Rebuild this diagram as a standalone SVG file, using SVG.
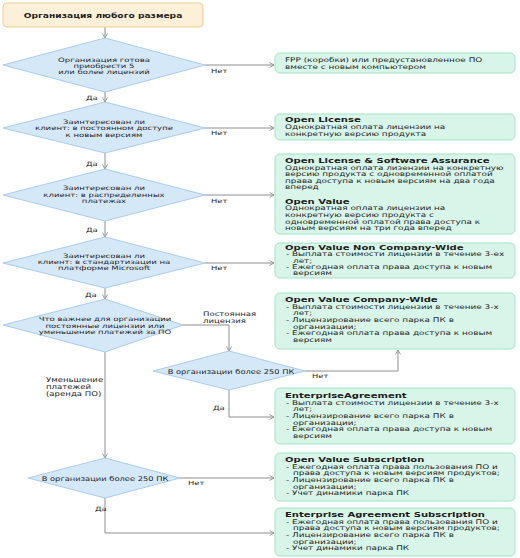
<svg xmlns="http://www.w3.org/2000/svg" width="520" height="558" viewBox="0 0 520 558">
<style>
text{font-family:"DejaVu Sans","Verdana",sans-serif;fill:#1e1e1e;font-size:6.4px}
.b{font-weight:bold;font-size:6.7px}
.d{font-size:6px;text-anchor:middle}
.l{font-size:6px}
.start{fill:#fcf0d8;stroke:#efcf8c;stroke-width:1}
.dia{fill:#d5e8f8;stroke:#a9cced;stroke-width:1}
.box{fill:#d8f5e9;stroke:#a2e3c7;stroke-width:1}
.c{fill:none;stroke:#8e8e8e;stroke-width:1}
</style>
<defs>
<marker id="ar" markerWidth="6" markerHeight="6" refX="5" refY="3" orient="auto" markerUnits="userSpaceOnUse">
<path d="M0.5,0.5 L5,3 L0.5,5.5" fill="none" stroke="#8e8e8e" stroke-width="0.9"/>
</marker>
</defs>
<rect width="520" height="558" fill="#ffffff"/>

<g id="connectors">
<path class="c" d="M105,27 V38" marker-end="url(#ar)"/>
<path class="c" d="M105,92 V102" marker-end="url(#ar)"/>
<path class="c" d="M105,153 V169" marker-end="url(#ar)"/>
<path class="c" d="M105,221 V237" marker-end="url(#ar)"/>
<path class="c" d="M105,288 V299" marker-end="url(#ar)"/>
<path class="c" d="M205,65 H274" marker-end="url(#ar)"/>
<path class="c" d="M205,128 H274" marker-end="url(#ar)"/>
<path class="c" d="M205,195 H274" marker-end="url(#ar)"/>
<path class="c" d="M205,263 H274" marker-end="url(#ar)"/>
<path class="c" d="M183,325 H229 V351" marker-end="url(#ar)"/>
<path class="c" d="M305,371 H398 V350" marker-end="url(#ar)"/>
<path class="c" d="M229,390 V417 H274" marker-end="url(#ar)"/>
<path class="c" d="M105,352 V458" marker-end="url(#ar)"/>
<path class="c" d="M180,478 H274" marker-end="url(#ar)"/>
<path class="c" d="M105,498 V533 H274" marker-end="url(#ar)"/>
<g class="labels">
<text class="l" transform="translate(211,73) scale(1.4,1)">Нет</text>
<text class="l" transform="translate(211,134.5) scale(1.4,1)">Нет</text>
<text class="l" transform="translate(211,203) scale(1.4,1)">Нет</text>
<text class="l" transform="translate(211,270) scale(1.4,1)">Нет</text>
<text class="l" transform="translate(312,378) scale(1.4,1)">Нет</text>
<text class="l" transform="translate(188,485) scale(1.4,1)">Нет</text>
<text class="l" transform="translate(86,99.5) scale(1.4,1)">Да</text>
<text class="l" transform="translate(86,165.5) scale(1.4,1)">Да</text>
<text class="l" transform="translate(86,231.5) scale(1.4,1)">Да</text>
<text class="l" transform="translate(85,296.5) scale(1.4,1)">Да</text>
<text class="l" transform="translate(213,409.5) scale(1.4,1)">Да</text>
<text class="l" transform="translate(95,511) scale(1.4,1)">Да</text>
<g transform="translate(203,0) scale(1.36,1)">
<text x="0" y="316.3" style="font-size:6.3px">Постоянная</text>
<text x="0" y="323" style="font-size:6.3px">лицензия</text>
</g>
<g transform="translate(46,0) scale(1.28,1)">
<text x="0" y="382" style="font-size:6.7px">Уменьшение</text>
<text x="0" y="389" style="font-size:6.7px">платежей</text>
<text x="0" y="396" style="font-size:6.7px">(аренда ПО)</text>
</g>
</g>
</g>

<g id="start">
<rect class="start" x="3" y="3" width="200" height="24" rx="4"/>
<text class="b" style="font-size:7.5px;text-anchor:middle" transform="translate(103,17.7) scale(1.22,1)">Организация любого размера</text>
</g>

<g id="q1">
<polygon class="dia" points="3,65 105,38 205,65 105,92"/>
<g transform="translate(104,0) scale(1.42,1)">
<text class="d" x="0" y="62">Организация готова</text>
<text class="d" x="0" y="68">приобрести 5</text>
<text class="d" x="0" y="74">или более лицензий</text>
</g>
</g>

<g id="q2">
<polygon class="dia" points="3,128 105,102 205,128 105,153"/>
<g transform="translate(104,0) scale(1.42,1)">
<text class="d" x="0" y="124">Заинтересован ли</text>
<text class="d" x="0" y="130.3">клиент: в постоянном доступе</text>
<text class="d" x="0" y="136.6">к новым версиям</text>
</g>
</g>

<g id="q3">
<polygon class="dia" points="3,195 105,169 205,195 105,221"/>
<g transform="translate(104,0) scale(1.42,1)">
<text class="d" x="0" y="190.5">Заинтересован ли</text>
<text class="d" x="0" y="196.7">клиент: в распределенных</text>
<text class="d" x="0" y="203">платежах</text>
</g>
</g>

<g id="q4">
<polygon class="dia" points="3,263 105,237 205,263 105,288"/>
<g transform="translate(104,0) scale(1.42,1)">
<text class="d" x="0" y="258.5">Заинтересован ли</text>
<text class="d" x="0" y="264.5">клиент: в стандартизации на</text>
<text class="d" x="0" y="270.5">платформе Microsoft</text>
</g>
</g>

<g id="q5">
<polygon class="dia" points="3,325 105,299 183,325 105,352"/>
<g transform="translate(105,0) scale(1.42,1)">
<text class="d" x="0" y="321.5">Что важнее для организации</text>
<text class="d" x="0" y="327.8">постоянные лицензии или</text>
<text class="d" x="0" y="334.1">уменьшение платежей за ПО</text>
</g>
</g>

<g id="q6">
<polygon class="dia" points="153,371 229,351 305,371 229,390"/>
<text class="d" style="font-size:6.6px" transform="translate(231,373.5) scale(1.26,1)">В организации более 250 ПК</text>
</g>

<g id="q7">
<polygon class="dia" points="28,478 105,458 180,478 105,498"/>
<text class="d" style="font-size:6.6px" transform="translate(105,480.5) scale(1.26,1)">В организации более 250 ПК</text>
</g>

<g id="fpp">
<rect class="box" x="275" y="53" width="240" height="20" rx="5"/>
<g transform="translate(285,0) scale(1.39,1)">
<text x="0" y="62">FPP (коробки) или предустановленное ПО</text>
<text x="0" y="69">вместе с новым компьютером</text>
</g>
</g>

<g id="open-license">
<rect class="box" x="275" y="114" width="240" height="26" rx="5"/>
<text class="b" transform="translate(285,122) scale(1.5,1)">Open License</text>
<g transform="translate(285,0) scale(1.39,1)">
<text x="0" y="129">Однократная оплата лицензии на</text>
<text x="0" y="136">конкретную версию продукта</text>
</g>
</g>

<g id="olsa-ov">
<rect class="box" x="275" y="154" width="240" height="80" rx="5"/>
<text class="b" transform="translate(285,163) scale(1.5,1)">Open License &amp; Software Assurance</text>
<text class="b" transform="translate(285,203.8) scale(1.5,1)">Open Value</text>
<g transform="translate(285,0) scale(1.39,1)">
<text x="0" y="169.6">Однократная оплата лизензии на конкретную</text>
<text x="0" y="176.2">версию продукта с одновременной оплатой</text>
<text x="0" y="182.8">права доступа к новым версиям на два года</text>
<text x="0" y="189.4">вперед</text>
<text x="0" y="210.4">Однократная оплата лицензии на</text>
<text x="0" y="217">конкретную версию продукта с</text>
<text x="0" y="223.6">одновременной оплатой права доступа к</text>
<text x="0" y="230.2">новым версиям на три года вперед</text>
</g>
</g>

<g id="ov-ncw">
<rect class="box" x="275" y="243" width="240" height="35" rx="5"/>
<text class="b" transform="translate(285,250) scale(1.5,1)">Open Value Non Company-Wide</text>
<g transform="translate(285,0) scale(1.39,1)">
<text x="0.7" y="256.4">- Выплата стоимости лицензии в течение 3-ех</text>
<text x="5.75" y="262.8">лет;</text>
<text x="0.7" y="269.2">- Ежегодная оплата права доступа к новым</text>
<text x="5.75" y="275.4">версиям</text>
</g>
</g>

<g id="ov-cw">
<rect class="box" x="275" y="293" width="240" height="56" rx="5"/>
<text class="b" transform="translate(285,302) scale(1.5,1)">Open Value Company-Wide</text>
<g transform="translate(285,0) scale(1.39,1)">
<text x="0.7" y="308.7">- Выплата стоимости лицензии в течение 3-х</text>
<text x="5.75" y="315.4">лет;</text>
<text x="0.7" y="322.1">- Лицензирование всего парка ПК в</text>
<text x="5.75" y="328.8">организации;</text>
<text x="0.7" y="335.5">- Ежегодная оплата права доступа к новым</text>
<text x="5.75" y="342.2">версиям</text>
</g>
</g>

<g id="ea">
<rect class="box" x="275" y="388" width="240" height="56" rx="5"/>
<text class="b" transform="translate(285,398) scale(1.5,1)">EnterpriseAgreement</text>
<g transform="translate(285,0) scale(1.39,1)">
<text x="0.7" y="404.7">- Выплата стоимости лицензии в течение 3-х</text>
<text x="5.75" y="411.4">лет;</text>
<text x="0.7" y="418.1">- Лицензирование всего парка ПК в</text>
<text x="5.75" y="424.8">организации;</text>
<text x="0.7" y="431.5">- Ежегодная оплата права доступа к новым</text>
<text x="5.75" y="438.2">версиям</text>
</g>
</g>

<g id="ov-sub">
<rect class="box" x="275" y="453" width="240" height="48" rx="5"/>
<text class="b" transform="translate(285,462) scale(1.5,1)">Open Value Subscription</text>
<g transform="translate(285,0) scale(1.39,1)">
<text x="0.7" y="468.7">- Ежегодная оплата права пользования ПО и</text>
<text x="5.75" y="475.4">права доступа к новым версиям продуктов;</text>
<text x="0.7" y="482.1">- Лицензирование всего парка ПК в</text>
<text x="5.75" y="488.8">организации;</text>
<text x="0.7" y="495.5">- Учет динамики парка ПК</text>
</g>
</g>

<g id="ea-sub">
<rect class="box" x="275" y="508" width="240" height="48" rx="5"/>
<text class="b" transform="translate(285,517) scale(1.5,1)">Enterprise Agreement Subscription</text>
<g transform="translate(285,0) scale(1.39,1)">
<text x="0.7" y="523.7">- Ежегодная оплата права пользования ПО и</text>
<text x="5.75" y="530.4">права доступа к новым версиям продуктов;</text>
<text x="0.7" y="537.1">- Лицензирование всего парка ПК в</text>
<text x="5.75" y="543.8">организации;</text>
<text x="0.7" y="550.5">- Учет динамики парка ПК</text>
</g>
</g>
</svg>
